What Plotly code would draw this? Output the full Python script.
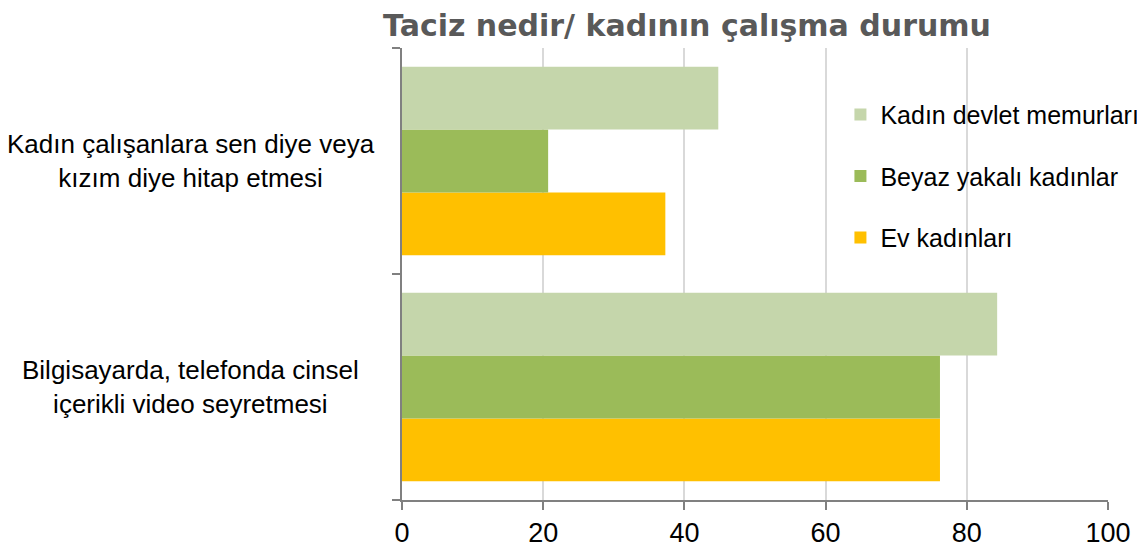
import plotly.graph_objects as go

# Data
categories = ['Bilgisayarda, telefonda cinsel<br>içerikli video seyretmesi',
              'Kadın çalışanlara sen diye veya<br>kızım diye hitap etmesi']
cat_keys = ['Bilgisayarda', 'Kadın çalışanlara']
ev_kadinlari = [76.2, 37.3]
beyaz_yakali = [76.2, 20.7]
devlet_memurlari = [84.3, 44.8]
x_ticks = [0, 20, 40, 60, 80, 100]

fig = go.Figure()
series = [('Ev kadınları', ev_kadinlari, '#FFC000', 3),
          ('Beyaz yakalı kadınlar', beyaz_yakali, '#9BBB59', 2),
          ('Kadın devlet memurları', devlet_memurlari, '#C5D6AB', 1)]
for name, vals, col, rank in series:
    fig.add_trace(go.Bar(y=cat_keys, x=vals, name=name, orientation='h',
                         marker=dict(color=col, line=dict(width=0)),
                         legendgroup=name, legendrank=rank))

# centred multi-line category labels
for key, label in zip(cat_keys, categories):
    fig.add_annotation(x=-0.299, xref='paper', y=key, yref='y', text=label,
                       showarrow=False, xanchor='center', align='center',
                       font=dict(family='Liberation Sans, Arial', size=26, color='#000000'))

fig.update_layout(
    width=1145, height=553,
    margin=dict(l=394, r=45, t=40, b=61, autoexpand=False),
    plot_bgcolor='white', paper_bgcolor='white',
    barmode='group', bargap=0.167, bargroupgap=0,
    title=dict(text='<b>Taciz nedir/ kadının çalışma durumu</b>', x=0.593, xanchor='center',
               y=0.968, yanchor='middle',
               font=dict(family='DejaVu Sans', size=30, color='#595959')),
    legend=dict(x=0.621, y=0.903, xanchor='left', yanchor='top', traceorder='grouped',
                tracegroupgap=26, bgcolor='rgba(0,0,0,0)',
                font=dict(family='Liberation Sans, Arial', size=25, color='#000000')),
    xaxis=dict(range=[0, 100], tickvals=x_ticks, showgrid=True, gridcolor='#D9D9D9', gridwidth=1.5,
               showline=True, linecolor='#808080', linewidth=2, ticks='outside', ticklen=8,
               tickcolor='#808080', tickwidth=2, zeroline=False, automargin=False,
               tickfont=dict(family='Liberation Sans, Arial', size=27, color='#000000')),
    yaxis=dict(showticklabels=False, showline=True, linecolor='#808080', linewidth=2,
               ticks='outside', tickson='boundaries', ticklen=8, tickcolor='#808080', tickwidth=2,
               showgrid=False, categoryorder='array', categoryarray=cat_keys, automargin=False),
)

fig.write_html("out.html")
